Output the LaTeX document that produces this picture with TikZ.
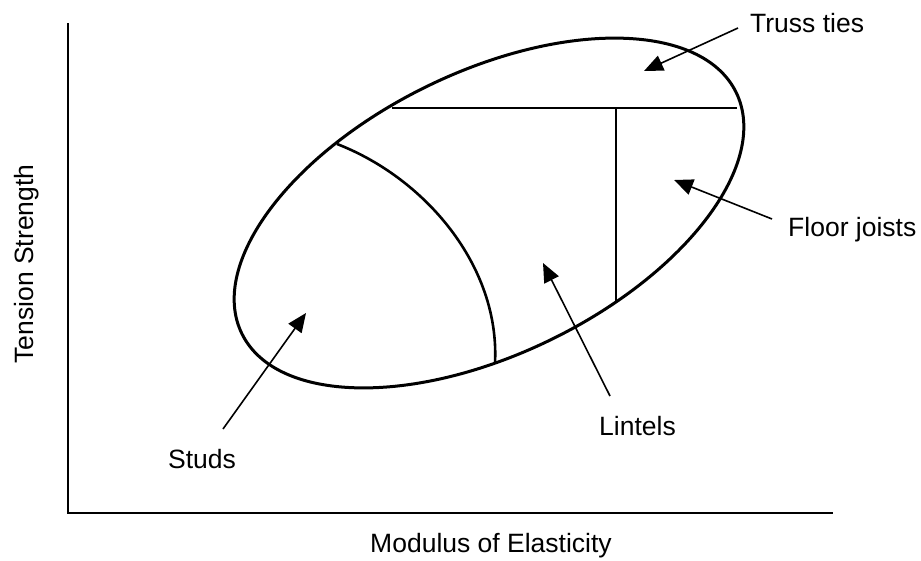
\documentclass[tikz,border=0pt]{standalone}
\usepackage{fontspec}
\setmainfont{Liberation Sans}
\usetikzlibrary{arrows.meta}
\begin{document}
\begin{tikzpicture}[x=1pt,y=-1pt,
  lbl/.style={font=\fontsize{26.5}{30}\selectfont, inner sep=0pt},
  arr/.style={line width=1.6pt, -{Triangle[length=19pt,width=16pt]}},
  region/.style={line width=2.6pt},
  axis/.style={line width=2pt},
  outline/.style={line width=3pt}]
\useasboundingbox (0,0) rectangle (921,560);
% axes
\coordinate (ytop) at (68,23);
\coordinate (orig) at (68,513);
\coordinate (xend) at (833,513);
\draw[axis] (ytop) -- (orig) -- (xend);
\node[lbl, rotate=90, anchor=base] (ylab) at (33,264) {Tension Strength};
\node[lbl, anchor=base] (xlab) at (491,552) {Modulus of Elasticity};
% ellipse
\coordinate (c) at (489,213);
\draw[outline, rotate around={26:(c)}] (c) ellipse [x radius=275, y radius=141];
% partitions
\coordinate (hL) at (392,108);
\coordinate (hR) at (737,108);
\coordinate (vT) at (616,108);
\coordinate (vB) at (616,303);
\coordinate (cS) at (337,144);
\coordinate (cE) at (495,363);
\draw[region] (hL) -- (hR);
\draw[region] (vT) -- (vB);
\draw[region] (cS) .. controls (425,178) and (500,266) .. (cE);
% labels
\node[lbl, anchor=base west] (truss) at (750,32) {Truss ties};
\node[lbl, anchor=base west] (floor) at (788,236) {Floor joists};
\node[lbl, anchor=base west] (studs) at (168,468) {Studs};
\node[lbl, anchor=base west] (lint) at (599,435) {Lintels};
% arrow tips
\coordinate (tTruss) at (644,71);
\coordinate (tFloor) at (674,180);
\coordinate (tStuds) at (306,313);
\coordinate (tLint) at (543,263);
\draw[arr] ([shift={(-12,-4)}]truss.base west) -- (tTruss);
\draw[arr] ([shift={(-16,-17)}]floor.base west) -- (tFloor);
\draw[arr] ([shift={(55,-39)}]studs.base west) -- (tStuds);
\draw[arr] ([shift={(11,-39)}]lint.base west) -- (tLint);
\end{tikzpicture}
\end{document}
